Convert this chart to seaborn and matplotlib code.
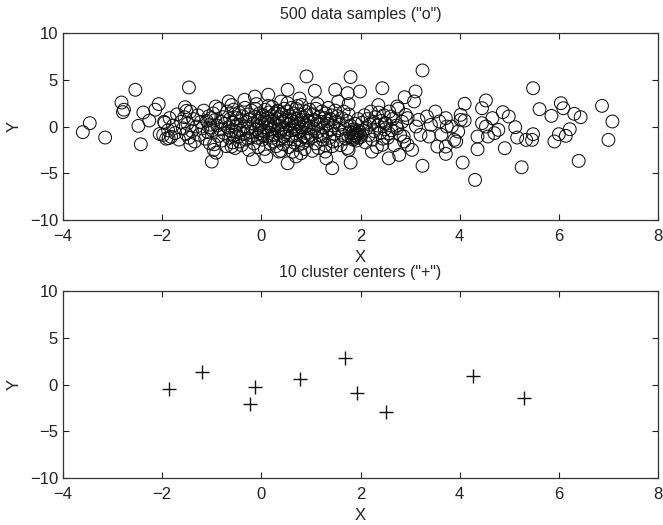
import numpy as np
import matplotlib
matplotlib.use("Agg")
import matplotlib.pyplot as plt
import seaborn as sns

# dense core of the sample cloud, read bin by bin from the picture
core_x = [
    -1.98, -1.95, -1.92, -1.88, -1.85, -1.82, -1.78, -1.74, -1.70, -1.66, -1.62, -1.58, -1.55, -1.52,
    -1.49, -1.46, -1.43, -1.40, -1.37, -1.34, -1.31, -1.28, -1.25, -1.22, -1.19, -1.16, -1.13, -1.10,
    -1.08, -1.06, -1.04, -1.03, -1.02, -1.01,
    -0.99, -0.97, -0.95, -0.93, -0.91, -0.89, -0.87, -0.85, -0.83, -0.81, -0.79, -0.77, -0.75, -0.73,
    -0.71, -0.69, -0.67, -0.65, -0.63, -0.61, -0.60, -0.58, -0.57, -0.55, -0.54, -0.53, -0.52, -0.51,
    -0.50, -0.56,
    -0.49, -0.47, -0.45, -0.43, -0.41, -0.40, -0.38, -0.36, -0.35, -0.33, -0.31, -0.30, -0.28, -0.26,
    -0.25, -0.23, -0.21, -0.20, -0.18, -0.16, -0.15, -0.13, -0.11, -0.10, -0.08, -0.07, -0.06, -0.05,
    -0.04, -0.03, -0.02, -0.01, -0.44, -0.27, -0.12,
    0.01, 0.02, 0.03, 0.05, 0.06, 0.07, 0.08, 0.10, 0.11, 0.12, 0.13, 0.15, 0.16, 0.17, 0.18, 0.20,
    0.21, 0.22, 0.23, 0.25, 0.26, 0.27, 0.28, 0.30, 0.31, 0.32, 0.33, 0.35, 0.36, 0.37, 0.38, 0.40,
    0.41, 0.42, 0.43, 0.45, 0.46, 0.47, 0.48, 0.49, 0.04, 0.14, 0.24, 0.34, 0.44,
    0.50, 0.51, 0.52, 0.54, 0.55, 0.56, 0.57, 0.59, 0.60, 0.61, 0.62, 0.64, 0.65, 0.66, 0.67, 0.69,
    0.70, 0.71, 0.72, 0.74, 0.75, 0.76, 0.77, 0.79, 0.80, 0.81, 0.82, 0.84, 0.85, 0.86, 0.87, 0.89,
    0.90, 0.91, 0.92, 0.94, 0.95, 0.96, 0.97, 0.99, 0.53, 0.63, 0.73, 0.83, 0.93,
    1.00, 1.02, 1.04, 1.05, 1.07, 1.09, 1.10, 1.12, 1.14, 1.15, 1.17, 1.19, 1.20, 1.22, 1.24, 1.25,
    1.27, 1.29, 1.30, 1.32, 1.34, 1.35, 1.37, 1.39, 1.40, 1.42, 1.44, 1.45, 1.47, 1.49, 1.03, 1.13,
    1.23, 1.33, 1.43,
    1.50, 1.52, 1.54, 1.56, 1.58, 1.60, 1.62, 1.64, 1.66, 1.68, 1.70, 1.72, 1.74, 1.76, 1.78, 1.80,
    1.82, 1.84, 1.85, 1.86, 1.87, 1.88, 1.89, 1.90, 1.91, 1.92, 1.93, 1.94, 1.95, 1.96, 1.97, 1.99,
    2.01, 2.03, 2.05, 2.08, 2.10, 2.12, 2.14, 2.17, 2.19, 2.21, 2.24, 2.26, 2.28, 2.30, 2.33, 2.35,
    2.37, 2.40, 2.42, 2.45, 2.47, 2.49,
    2.52, 2.55, 2.58, 2.62, 2.65, 2.68, 2.72, 2.76, 2.80, 2.84, 2.88, 2.95,
]
core_y = [
    -0.9, 0.4, -1.3, -0.4, 0.9, -1.1, 0.1, -0.7, 1.3, -1.4, 0.5, -0.2, 1.0, -0.8,
    0.3, -1.2, 1.6, -0.5, 0.8, -1.6, 0.0, 1.2, -0.9, 0.5, -0.2, 1.7, -1.3, 0.6,
    -0.6, 1.1, -1.8, 0.2, -0.1, 0.9,
    -0.4, 1.4, -1.9, 0.7, -2.8, 0.1, -1.0, 1.9, -0.3, 0.5, -1.5, 1.0, -0.7, 0.3,
    -2.1, 1.6, -0.1, -1.2, 0.8, -0.5, 2.3, -1.7, 0.4, -0.9, 1.3, -2.3, 0.0, -0.6,
    0.9, 1.8,
    0.2, -1.1, 1.5, -0.4, 0.6, -2.0, 1.1, -0.8, 0.0, 2.0, -1.4, 0.5, -0.2, 1.3,
    -2.5, 0.8, -0.6, 1.7, -1.0, 0.3, -1.8, 1.0, -0.3, 2.4, -1.2, 0.6, -2.2, 0.1,
    1.4, -0.7, 0.9, -0.4, -1.6, -1.3, 1.9,
    0.3, -1.4, 1.2, -0.5, 0.7, -2.4, 1.8, -0.1, 0.9, -1.0, 0.4, 1.5, -0.7, 0.0, -1.8, 1.1,
    -0.3, 2.1, -1.2, 0.6, -0.9, 1.4, 0.2, -2.1, 0.8, -0.4, 1.7, -1.5, 0.1, 1.0, -0.6, -2.6,
    1.3, -0.2, 0.5, -1.1, 1.9, -0.8, 0.7, -0.3, -0.9, 2.2, -1.6, 1.6, -1.9,
    0.9, -0.6, 1.6, -1.3, 0.2, -2.2, 1.1, -0.4, 0.6, 2.0, -1.0, 0.0, 1.4, -1.7, 0.5, -0.3,
    1.9, -0.9, 0.8, -2.0, 0.3, 1.3, -0.5, -1.4, 0.7, 2.3, -0.1, 1.0, -1.1, 0.4, -2.4, 1.6,
    -0.7, 0.1, 1.2, -1.5, 0.6, -0.2, 1.8, -0.9, 2.5, -2.7, 2.2, -1.8, -1.2,
    0.4, -1.1, 1.3, -0.2, 0.7, -1.8, 1.9, -0.6, 0.2, -2.3, 1.0, -0.9, 0.5, 1.6, -1.4, -0.1,
    0.9, -2.0, 1.4, -0.5, 0.3, 2.0, -1.2, 0.8, -0.3, 1.2, -1.6, 0.1, -0.8, 1.7, -2.6, 2.4,
    -1.0, 0.6, -2.1,
    0.5, -1.5, 1.1, -0.4, 0.2, -2.0, 0.9, -0.9, 1.6, -0.2, -1.3, 0.6, -2.3, 1.3, -0.6, 0.1,
    -1.1, -0.7, -1.4, -0.3, -0.9, -1.2, 0.3, -0.6, -1.0, -1.5, -0.4, -0.8, 0.8, -1.2, -0.5, -0.9,
    -1.1, 0.4, -0.4, 1.2, -1.7, -0.2, 0.8, -0.9, 0.2, 1.6, -1.4, 0.5, -0.5, 1.0, -2.2, 0.1,
    1.5, -0.7, 0.6, -1.3, 1.2, -0.3,
    0.3, -1.2, 1.6, -0.4, 0.8, -2.0, 0.1, 1.9, -0.9, 0.5, -1.6, 0.9,
]

# scattered points around the core
outer_x = [
    -3.60, -3.46, -3.15, -2.82, -2.79, -2.77, -2.54, -2.48, -2.43, -2.38, -2.26, -2.14, -2.07, -2.05,
    -1.96, -1.87, -1.46, -1.54, -1.51, -1.43, -1.00, -0.96, -0.92, -0.66, -0.60, -0.34, -0.17, -0.13,
    0.10, 0.14, 0.36, 0.40, 0.53, 0.53, 0.70, 0.77, 0.80, 0.91, 1.08, 1.29, 1.31, 1.43, 1.49, 1.55,
    1.74, 1.80, 1.80, 1.99, 1.76, 1.76, 2.44, 2.36, 2.23, 2.57, 2.78, 2.89, 3.04, 3.11, 3.08, 3.25,
    3.25, 3.51, 3.55, 3.72, 3.72, 3.89, 3.93, 4.02, 4.06, 4.10, 4.31, 4.36, 4.45, 4.53, 4.45, 4.53,
    4.66, 4.78, 4.87, 4.91, 4.99, 5.12, 5.16, 5.25, 5.34, 5.46, 5.48, 5.48, 5.61, 5.85, 5.91, 6.00,
    6.04, 6.09, 6.14, 6.22, 6.31, 6.40, 6.44, 6.87, 7.00, 7.08,
    2.74, 2.91, 2.87, 2.95, 3.17, 3.21, 3.34, 3.38, 3.42, 3.59, 3.63, 3.72, 3.74, 3.84, 3.97, 4.02,
    4.10, 4.36, 4.57, 4.70, 3.12, 2.74, 2.61, 2.57, 2.44, 2.49,
]
outer_y = [
    -0.60, 0.36, -1.18, 2.57, 1.54, 1.80, 3.93, 0.07, -1.90, 1.50, 0.64, 1.80, 2.40, -0.80,
    0.50, -1.25, 4.18, 2.07, 1.68, -1.96, -3.75, -2.50, 2.14, 2.68, -2.14, 2.86, -3.50, 3.20,
    -3.20, 3.40, -2.68, 2.68, 3.93, -3.93, -3.20, 3.00, -2.86, 5.36, 3.82, -2.68, -3.40, -4.46, 3.93, 2.68,
    3.57, 5.29, -3.86, 3.75, 2.40, -2.50, 4.10, 2.30, -2.68, -3.40, -3.04, 3.14, -2.50, 3.75, 2.68, 6.00,
    -4.20, 1.60, -2.14, -2.14, -2.93, -1.43, -1.60, 1.25, -3.86, 2.43, -5.71, -2.43, 1.96, 2.79, 0.36, 0.00,
    0.90, -0.36, 1.54, -2.32, 1.07, -0.07, -1.18, -4.36, -1.43, -1.43, 4.10, -0.82, 1.86, 1.14, -1.60, -0.82,
    2.50, 1.96, -1.00, -0.29, 1.36, -3.68, 1.00, 2.21, -1.43, 0.54,
    2.14, 1.25, -1.07, -1.96, 0.71, -0.89, 1.07, -1.07, 0.18, 0.54, -0.89, 0.90, 0.00, 0.00, -0.54, 0.71,
    0.64, -1.07, -1.07, -0.71, 0.00, -0.18, 1.07, -0.71, -1.96, 0.36,
]

# cluster centres
center_x = [-1.87, -1.20, -0.23, -0.13, 0.78, 1.69, 1.92, 2.51, 4.27, 5.29]
center_y = [-0.46, 1.38, -2.05, -0.21, 0.60, 2.80, -0.85, -2.94, 0.96, -1.42]

sample_x = np.array(core_x + outer_x)
sample_y = np.array(core_y + outer_y)

sns.set_theme(style="ticks", rc={
    "xtick.direction": "in", "ytick.direction": "in",
    "xtick.top": True, "ytick.right": True,
    "xtick.major.size": 4, "ytick.major.size": 4,
    "axes.linewidth": 0.9, "axes.edgecolor": "#333333",
})
plt.rcParams["font.family"] = ["Liberation Sans", "DejaVu Sans"]

fig = plt.figure(figsize=(6.63, 5.25), dpi=100)
ax1 = fig.add_axes([0.095, 0.581, 0.8975, 0.356])
ax2 = fig.add_axes([0.095, 0.0895, 0.8975, 0.356])

sns.scatterplot(x=sample_x, y=sample_y, marker="o", s=85, ax=ax1)
pts = ax1.collections[-1]
pts.set_facecolor("none")
pts.set_edgecolor("#111111")
pts.set_linewidth(0.75)

sns.scatterplot(x=center_x, y=center_y, marker="+", s=90, color="#111111",
                linewidth=1.0, ax=ax2)

for ax, title in [(ax1, '500 data samples ("o")'), (ax2, '10 cluster centers ("+")')]:
    ax.set_xlim(-4, 8)
    ax.set_ylim(-10, 10)
    ax.set_xticks(range(-4, 9, 2))
    ax.set_yticks(range(-10, 11, 5))
    ax.tick_params(labelsize=12, colors="#222222", width=0.8)
    ax.tick_params(axis="x", pad=6.5)
    ax.set_xlabel("X", fontsize=12, labelpad=4)
    ax.set_ylabel("Y", fontsize=12, labelpad=6)
    ax.set_title(title, fontsize=11.5, pad=10)
    for s in ax.spines.values():
        s.set_visible(True)

fig.savefig("out.png", dpi=100)
